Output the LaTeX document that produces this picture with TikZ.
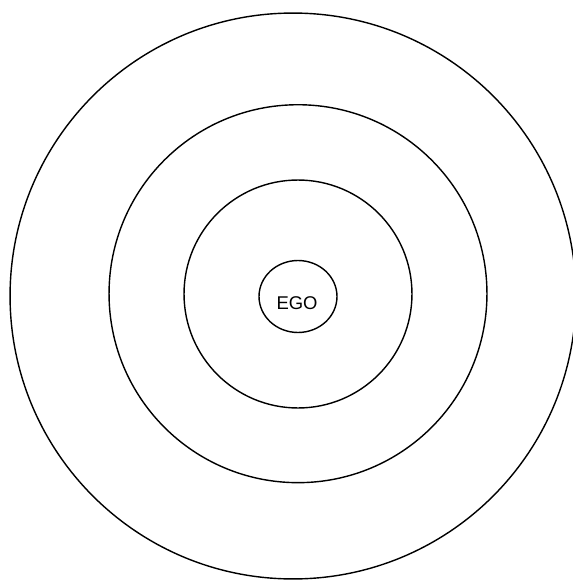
\documentclass[tikz,border=0pt]{standalone}
\usepackage{fontspec}
\setmainfont{Liberation Sans}
\usepackage{tikz}
\usetikzlibrary{shapes, positioning}

\begin{document}
\begin{tikzpicture}[
  x=0.02cm, y=-0.02cm,
  ring/.style={draw, circle, line width=0.8pt, inner sep=0pt},
  egobox/.style={draw, ellipse, line width=0.8pt, inner sep=0pt, minimum width=1.56cm, minimum height=1.44cm},
  egolabel/.style={font=\fontsize{10.5}{12}\selectfont, inner sep=0pt}
]
  \useasboundingbox (0, 0) rectangle (573, 581);
  \node[ring, minimum size=11.32cm] (outer) at (293, 296) {};
  \node[ring, minimum size=7.56cm] (middle) at (298, 293.7) {};
  \node[ring, minimum size=4.56cm] (inner) at (298, 294) {};
  \node[egobox] (ego) at (298, 296.5) {};
  \node[egolabel] (egotext) at (297, 303) {EGO};
\end{tikzpicture}
\end{document}
